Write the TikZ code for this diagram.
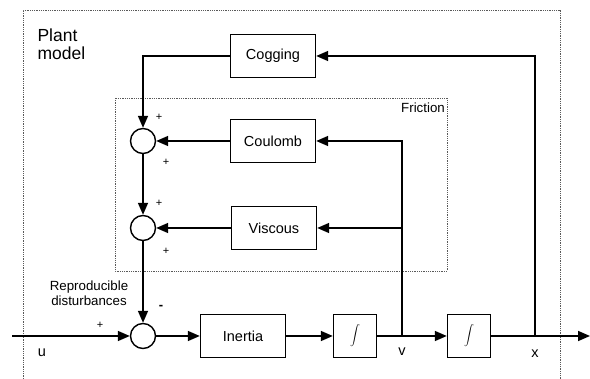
\documentclass[tikz,border=0pt]{standalone}
\usepackage{fontspec}
\setmainfont{Liberation Sans}
\usetikzlibrary{arrows.meta}

\begin{document}
\begin{tikzpicture}[
  x=1pt, y=-1pt,
  font=\fontsize{14.5}{16}\selectfont,
  block/.style={draw, line width=1.4pt, minimum width=85pt, minimum height=43pt, inner sep=2pt},
  intblock/.style={block, minimum width=43pt},
  sumnode/.style={draw, circle, line width=1.4pt, minimum size=25pt, inner sep=0pt},
  arrow/.style={-{Triangle[length=12pt,width=10pt]}, line width=1.6pt},
  frame/.style={draw=gray!70!black, densely dotted, line width=0.8pt},
  sign/.style={font=\fontsize{11}{12}\selectfont},
  note/.style={font=\fontsize{13.3}{15}\selectfont, align=center},
]
\useasboundingbox (0,0) rectangle (590,379);

% dotted groups
\draw[frame] (23,379) |- (560,10) -- (560,379);
\draw[frame] (115,98) rectangle (447,271);

\node[block] (cogging) at (273,56) {Cogging};
\node[block] (coulomb) at (273,141) {Coulomb};
\node[block] (viscous) at (274,228) {Viscous};
\node[block] (inertia) at (243,336) {Inertia};
\node[intblock] (int1) at (355,336) {$\displaystyle\int$};
\node[intblock] (int2) at (469,336) {$\displaystyle\int$};

\node[sumnode] (sum1) at (143,141) {};
\node[sumnode] (sum2) at (143,228) {};
\node[sumnode] (sum3) at (143,336) {};

\coordinate (in) at (12,336);
\coordinate (out) at (590,336);
\coordinate (vel) at (402,336);
\coordinate (pos) at (535,336);

\draw[arrow] (in) -- (sum3);
\draw[arrow] (sum3) -- (inertia);
\draw[arrow] (inertia) -- (int1);
\draw[arrow] (int1) -- (int2);
\draw[arrow] (int2) -- (out);
\draw[arrow] (pos) |- (cogging);
\draw[arrow] (cogging) -| (sum1);
\draw[arrow] (vel) |- (coulomb);
\draw[arrow] (vel |- viscous) -- (viscous);
\draw[arrow] (coulomb) -- (sum1);
\draw[arrow] (viscous) -- (sum2);
\draw[arrow] (sum1) -- (sum2);
\draw[arrow] (sum2) -- (sum3);

% signs and labels
\node[sign] (p1a) at (159,117) {+};
\node[sign] (p1b) at (166,162) {+};
\node[sign] (p2a) at (159,203) {+};
\node[sign] (p2b) at (166,251) {+};
\node[sign] (pin) at (100,325) {+};
\node[sign, font=\fontsize{13}{14}\selectfont\bfseries] (mdist) at (161,307) {-};

\node (ulabel) at (42,353) {u};
\node (vlabel) at (402,352) {v};
\node (xlabel) at (535,354) {x};
\node[note] (dist) at (89,293) {Reproducible\\disturbances};
\node[note, anchor=east, inner sep=1pt] (fric) at (446,108) {Friction};
\node[font=\fontsize{17.5}{18}\selectfont, align=left, anchor=west] (plant) at (34,44) {Plant\\model};
\end{tikzpicture}
\end{document}
